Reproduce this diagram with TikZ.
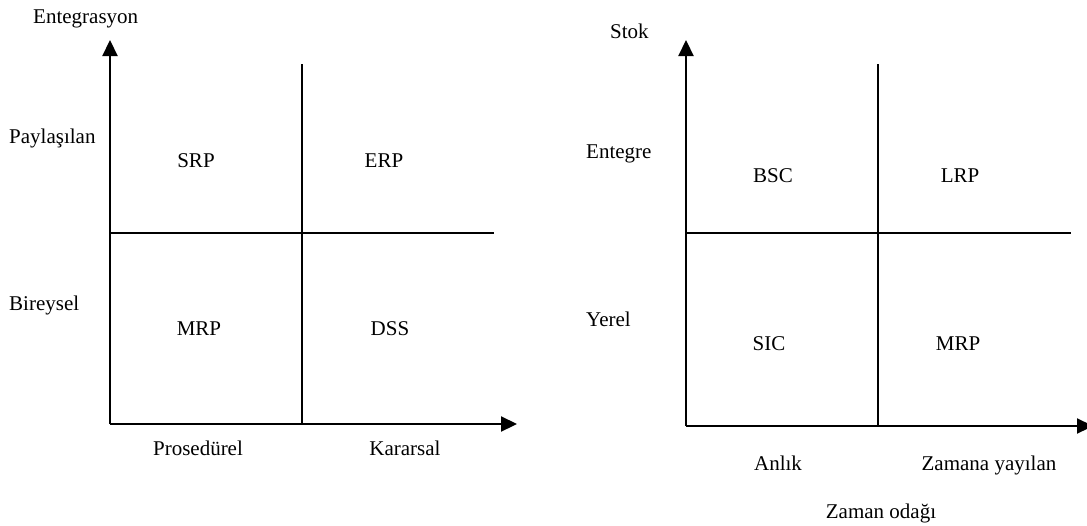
\documentclass[tikz,border=0pt]{standalone}
\usepackage{fontspec}
\setmainfont{Liberation Serif}
\usetikzlibrary{arrows.meta}
\begin{document}
\begin{tikzpicture}[x=1pt,y=-1pt,
  axis/.style={line width=2.2pt,-{Triangle[length=16pt,width=15pt]}},
  divider/.style={line width=1.6pt},
  lbl/.style={inner sep=0pt,font=\fontsize{21}{25}\selectfont},
  cell/.style={lbl,anchor=base},
  side/.style={lbl,anchor=base west}]
\useasboundingbox (0,0) rectangle (1087,525);
% ---------- left chart ----------
\coordinate (LO) at (110,424);
\coordinate (LYT) at (110,40);
\coordinate (LXT) at (517,424);
\coordinate (LVt) at (302,64);
\coordinate (LVb) at (302,424);
\coordinate (LHl) at (110,233);
\coordinate (LHr) at (494,233);
\draw[divider] (LVt) -- (LVb);
\draw[divider] (LHl) -- (LHr);
\draw[axis] (LO) -- (LYT);
\draw[axis] (LO) -- (LXT);
\node[side] (entegrasyon) at (33,23) {Entegrasyon};
\node[side] (paylasilan) at (9,143) {Paylaşılan};
\node[side] (bireysel) at (9,310) {Bireysel};
\node[cell] (srp) at (196,167) {SRP};
\node[cell] (erp) at (384,167) {ERP};
\node[cell] (mrpL) at (199,335) {MRP};
\node[cell] (dss) at (390,335) {DSS};
\node[cell] (prosedurel) at (198,455) {Prosedürel};
\node[cell] (kararsal) at (405,455) {Kararsal};
% ---------- right chart ----------
\coordinate (RO) at (686,426);
\coordinate (RYT) at (686,40);
\coordinate (RXT) at (1093,426);
\coordinate (RVt) at (878,64);
\coordinate (RVb) at (878,426);
\coordinate (RHl) at (686,233);
\coordinate (RHr) at (1071,233);
\draw[divider] (RVt) -- (RVb);
\draw[divider] (RHl) -- (RHr);
\draw[axis] (RO) -- (RYT);
\draw[axis] (RO) -- (RXT);
\node[side] (stok) at (610,38) {Stok};
\node[side] (entegre) at (586,158) {Entegre};
\node[side] (yerel) at (586,326) {Yerel};
\node[cell] (bsc) at (773,182) {BSC};
\node[cell] (lrp) at (960,182) {LRP};
\node[cell] (sic) at (769,350) {SIC};
\node[cell] (mrpR) at (958,350) {MRP};
\node[cell] (anlik) at (778,470) {Anlık};
\node[cell] (zamana) at (989,470) {Zamana yayılan};
\node[cell] (odak) at (881,518) {Zaman odağı};
\end{tikzpicture}
\end{document}
